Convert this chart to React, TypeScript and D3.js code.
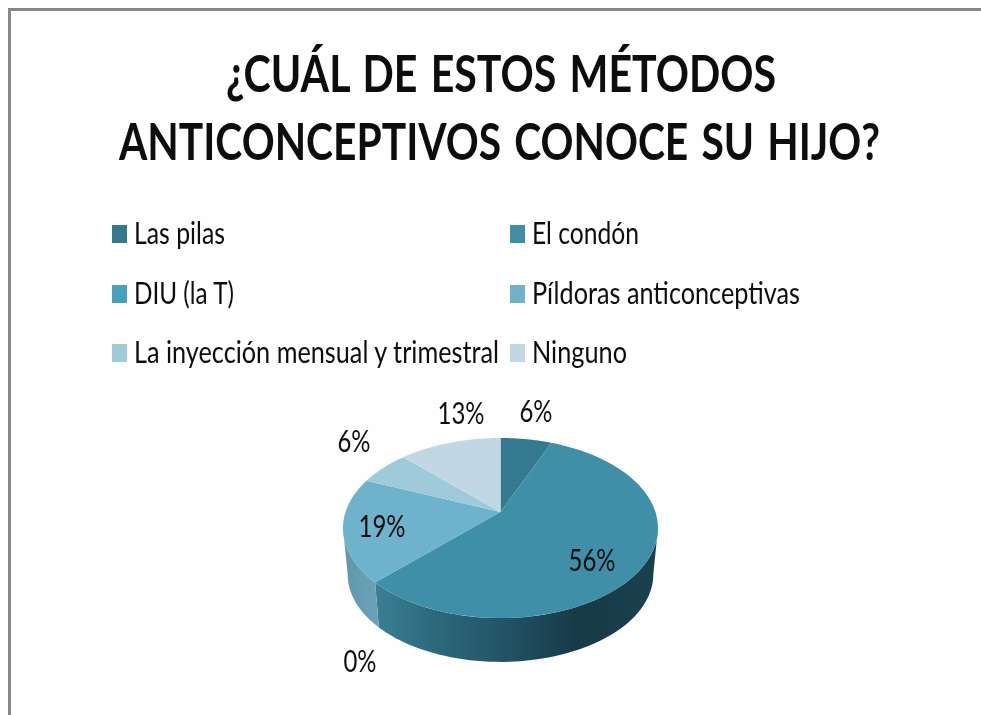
import React from "react";
import * as d3 from "d3";

const W = 981, H = 715;
const categories = ["Las pilas", "El condón", "DIU (la T)", "Píldoras anticonceptivas", "La inyección mensual y trimestral", "Ninguno"];
const values = [6.25, 56.25, 0, 18.75, 6.25, 12.5];
const valueLabels = ["6%", "56%", "0%", "19%", "6%", "13%"];
const colors = ["#34798f", "#3f8fa8", "#46a0be", "#6fb2cb", "#9fcada", "#c1d8e4"];
const titleLines = ["¿CUÁL DE ESTOS MÉTODOS", "ANTICONCEPTIVOS CONOCE SU HIJO?"];

// layout, separate from the data
const titleLayout = [{ x: 226, w: 550, y: 92 }, { x: 119, w: 761, y: 160 }];
const legendLayout = [
  { x: 112, y: 225, w: 91 }, { x: 510, y: 225, w: 107 },
  { x: 112, y: 285, w: 100 }, { x: 510, y: 285, w: 268 },
  { x: 112, y: 344, w: 365 }, { x: 510, y: 344, w: 95 },
];
const labelCentres = [[536, 411], [592, 560], [360, 661], [382, 526], [354, 441], [461, 413]];
const labelWidths = [33, 47, 33, 47, 33, 47];

// perspective projection of the pie disc
const k = 0.178, a = 155, b = 87.2, cx = 500.5, cy = 512;
const project = (t: number, r = 1, dy = 0, s = 1): [number, number] => {
  const u = r * Math.sin(t), v = r * Math.cos(t), d = 1 + k * v;
  return [cx + (s * a * u) / d, cy + dy - (s * b * v) / d];
};
const depth = 47, bottomScale = 0.97;
const silhouette = Math.acos(-k);

const samples = (t0: number, t1: number, n = 60) => d3.range(n + 1).map((i) => t0 + ((t1 - t0) * i) / n);
const line = d3.line<[number, number]>();

const arcs = d3.pie<number>().sort(null).value((d) => d)(values);

const wallPath = (t0: number, t1: number) => {
  const ts = samples(t0, t1);
  const pts = [
    ...ts.map((t) => project(t)),
    ...ts.slice().reverse().map((t) => project(t, 1, depth, bottomScale)),
  ];
  return line(pts) + "Z";
};
const slicePath = (t0: number, t1: number) =>
  line([[cx, cy] as [number, number], ...samples(t0, t1).map((t) => project(t))]) + "Z";

const wallSegments = arcs
  .map((d, i) => ({ i, t0: Math.max(d.startAngle, silhouette), t1: Math.min(d.endAngle, 2 * Math.PI - silhouette) }))
  .filter((d) => d.t1 > d.t0);

export default function App() {
  return (
    <svg width={W} height={H} viewBox={`0 0 ${W} ${H}`}
      style={{ position: "absolute", left: 0, top: 0, background: "#fefefe" }}
      fontFamily="Lato, 'Open Sans', sans-serif">
      <defs>
        <filter id="soft" x="-2%" y="-10%" width="104%" height="120%">
          <feGaussianBlur stdDeviation="0.45" />
        </filter>
        <linearGradient id="wall1" gradientUnits="userSpaceOnUse" x1="375" x2="655" y1="0" y2="0">
          <stop offset="0" stopColor="#3b7f95" />
          <stop offset="0.2" stopColor="#2d6a7e" />
          <stop offset="0.5" stopColor="#215062" />
          <stop offset="0.72" stopColor="#163a47" />
          <stop offset="1" stopColor="#1a404e" />
        </linearGradient>
        <linearGradient id="wall3" gradientUnits="userSpaceOnUse" x1="344" x2="378" y1="0" y2="0">
          <stop offset="0" stopColor="#5f97ad" />
          <stop offset="1" stopColor="#6ba2b7" />
        </linearGradient>
      </defs>
      <path d={`M9.5 ${H}V9.5H${W}`} fill="none" stroke="#888" strokeWidth={3} />
      <g filter="url(#soft)" fill="#111">
        {titleLines.map((t, i) => (
          <text key={t} x={titleLayout[i].x} y={titleLayout[i].y} fontSize={51} fontWeight={700} wordSpacing={4}
            textLength={titleLayout[i].w} lengthAdjust="spacingAndGlyphs">{t}</text>
        ))}
        {categories.map((c, i) => (
          <g key={c}>
            <rect x={legendLayout[i].x} y={legendLayout[i].y} width={15} height={18} fill={colors[i]} />
            <text x={legendLayout[i].x + 22} y={legendLayout[i].y + 19} fontSize={30}
              textLength={legendLayout[i].w} lengthAdjust="spacingAndGlyphs">{c}</text>
          </g>
        ))}
      </g>
      <g>
        {wallSegments.map((d) => (
          <path key={d.i} d={wallPath(d.t0, d.t1)} fill={`url(#wall${d.i})`} />
        ))}
        {arcs.filter((d) => d.endAngle > d.startAngle).map((d) => (
          <path key={d.index} d={slicePath(d.startAngle, d.endAngle)} fill={colors[d.index]} />
        ))}
      </g>
      <g filter="url(#soft)" fill="#111">
        {valueLabels.map((l, i) => (
          <text key={i} x={labelCentres[i][0] - labelWidths[i] / 2} y={labelCentres[i][1] + 11} fontSize={30}
            textLength={labelWidths[i]} lengthAdjust="spacingAndGlyphs">{l}</text>
        ))}
      </g>
    </svg>
  );
}
